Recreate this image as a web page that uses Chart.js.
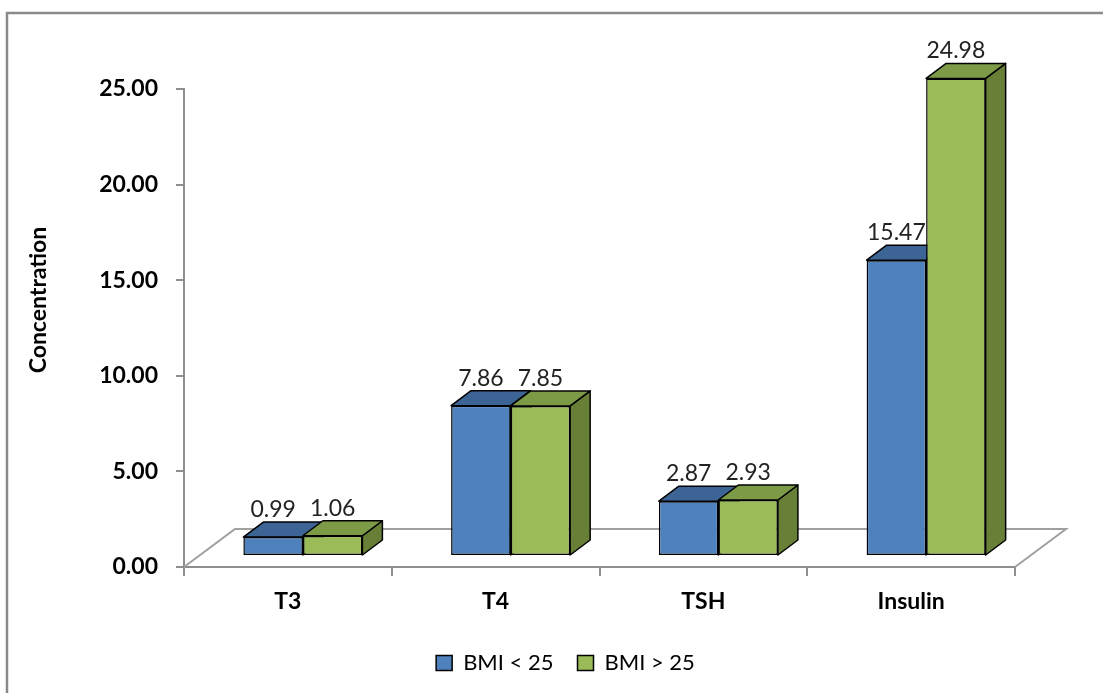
<!DOCTYPE html>
<html>
<head>
<meta charset="utf-8">
<title>Concentration by BMI group</title>
<script src="https://cdn.jsdelivr.net/npm/chart.js@4.4.1/dist/chart.umd.min.js"></script>
<style>
  html, body { margin: 0; padding: 0; background: #ffffff; }
  canvas { display: block; }
</style>
</head>
<body>
<canvas id="chart" width="1103" height="693"></canvas>
<script>
// ---- data ----
const categories = ['T3', 'T4', 'TSH', 'Insulin'];
const bmiBelow25 = [0.99, 7.86, 2.87, 15.47];
const bmiAbove25 = [1.06, 7.85, 2.93, 24.98];
const seriesNames = ['BMI < 25', 'BMI > 25'];
const yTickValues = [0, 5, 10, 15, 20, 25];
const yAxisTitle = 'Concentration';

// ---- styling ----
const FONT = 'Lato, Carlito, Calibri, "Open Sans", sans-serif';
const AXIS_GRAY = '#8e8e8e';
const FLOOR_GRAY = '#a0a0a0';
const barDepth = { dx: 20, dy: -15 };   // receding edge of each box
const barShift = { dx: 15, dy: -11 };   // boxes stand a little behind the front floor edge
const floorDepth = { dx: 51, dy: -38 }; // depth of the floor parallelogram
const palettes = [
  { front: '#4F81BD', top: '#3C6494', side: '#2F5078' },
  { front: '#9BBB59', top: '#7D9A47', side: '#687F38' }
];

// outer frame and rotated y-axis title
const framePlugin = {
  id: 'frame',
  beforeDraw(chart) {
    const ctx = chart.ctx;
    ctx.save();
    ctx.strokeStyle = '#8a8a8a';
    ctx.lineWidth = 2.5;
    ctx.beginPath();
    ctx.moveTo(7, chart.height);
    ctx.lineTo(7, 13);
    ctx.lineTo(chart.width, 13);
    ctx.stroke();

    ctx.translate(39, 300);
    ctx.rotate(-Math.PI / 2);
    ctx.font = 'bold 23px ' + FONT;
    ctx.fillStyle = '#000000';
    ctx.textAlign = 'center';
    ctx.textBaseline = 'middle';
    ctx.fillText(yAxisTitle, 0, 0);
    ctx.restore();
  }
};

// floor, box tops and sides, value labels
const boxPlugin = {
  id: 'boxes3d',
  beforeDatasetsDraw(chart) {
    const ctx = chart.ctx;
    const { left, right } = chart.chartArea;
    const y0 = chart.scales.y.getPixelForValue(0);

    // floor outline (front edge is the x axis line)
    ctx.save();
    ctx.strokeStyle = FLOOR_GRAY;
    ctx.lineWidth = 2;
    ctx.beginPath();
    ctx.moveTo(left, y0);
    ctx.lineTo(left + floorDepth.dx, y0 + floorDepth.dy);
    ctx.lineTo(right + floorDepth.dx, y0 + floorDepth.dy);
    ctx.lineTo(right, y0);
    ctx.stroke();
    ctx.restore();

    // every bar is drawn slightly back into the floor
    ctx.save();
    ctx.translate(barShift.dx, barShift.dy);

    const n = chart.data.labels.length;
    for (let j = 0; j < n; j++) {
      chart.data.datasets.forEach((ds, i) => {
        const bar = chart.getDatasetMeta(i).data[j];
        const { x, y, base, width } = bar.getProps(['x', 'y', 'base', 'width'], true);
        const l = x - width / 2, r = x + width / 2;
        const pal = palettes[i];
        ctx.lineWidth = 1.5;
        ctx.strokeStyle = '#000000';
        ctx.lineJoin = 'round';
        // side face
        ctx.beginPath();
        ctx.moveTo(r, y);
        ctx.lineTo(r + barDepth.dx, y + barDepth.dy);
        ctx.lineTo(r + barDepth.dx, base + barDepth.dy);
        ctx.lineTo(r, base);
        ctx.closePath();
        ctx.fillStyle = pal.side;
        ctx.fill();
        ctx.stroke();
        // top face
        ctx.beginPath();
        ctx.moveTo(l, y);
        ctx.lineTo(l + barDepth.dx, y + barDepth.dy);
        ctx.lineTo(r + barDepth.dx, y + barDepth.dy);
        ctx.lineTo(r, y);
        ctx.closePath();
        ctx.fillStyle = pal.top;
        ctx.fill();
        ctx.stroke();
      });
    }
  },
  afterDatasetsDraw(chart) {
    const ctx = chart.ctx;
    ctx.restore();

    ctx.save();
    ctx.font = '23px ' + FONT;
    ctx.fillStyle = '#222222';
    ctx.textAlign = 'center';
    ctx.textBaseline = 'alphabetic';
    chart.data.datasets.forEach((ds, i) => {
      chart.getDatasetMeta(i).data.forEach((bar, j) => {
        const { x, y } = bar.getProps(['x', 'y'], true);
        ctx.fillText(ds.data[j].toFixed(2), x + barShift.dx, y + barShift.dy + barDepth.dy - 5);
      });
    });
    ctx.restore();
  }
};

function makeDataset(label, values, pal) {
  return {
    label: label,
    data: values,
    backgroundColor: pal.front,
    borderColor: '#000000',
    borderWidth: 1.5,
    borderSkipped: false,
    categoryPercentage: 0.573,
    barPercentage: 1.0,
    clip: false
  };
}

function build() {
  new Chart(document.getElementById('chart'), {
    type: 'bar',
    data: {
      labels: categories,
      datasets: [
        makeDataset(seriesNames[0], bmiBelow25, palettes[0]),
        makeDataset(seriesNames[1], bmiAbove25, palettes[1])
      ]
    },
    options: {
      responsive: false,
      animation: false,
      layout: { padding: { left: 28, right: 0, top: 89, bottom: 9 } },
      scales: {
        x: {
          grid: { drawOnChartArea: false, drawTicks: true, tickLength: 9, color: AXIS_GRAY, lineWidth: 2, offset: true },
          border: { display: true, color: AXIS_GRAY, width: 2 },
          ticks: { font: { family: FONT, size: 23, weight: 'bold' }, color: '#000000', padding: 12 },
          afterFit(scale) { scale.height = 61; }
        },
        y: {
          min: 0,
          max: 25,
          afterBuildTicks(scale) { scale.ticks = yTickValues.map(v => ({ value: v })); },
          grid: { drawOnChartArea: false, drawTicks: true, tickLength: 8, color: AXIS_GRAY, lineWidth: 2 },
          border: { display: true, color: AXIS_GRAY, width: 2 },
          ticks: {
            font: { family: FONT, size: 23, weight: 'bold' },
            color: '#000000',
            padding: 18,
            callback: v => Number(v).toFixed(2)
          },
          afterFit(scale) { scale.width = 156; }
        },
        // empty margin on the right of the plot, so the floor can recede into it
        rightMargin: {
          type: 'linear',
          position: 'right',
          grid: { display: false },
          border: { display: false },
          ticks: { display: false },
          afterFit(scale) { scale.width = 88; }
        }
      },
      plugins: {
        legend: {
          position: 'bottom',
          labels: {
            boxWidth: 16,
            boxHeight: 15,
            padding: 24,
            color: '#000000',
            font: { family: FONT, size: 22 }
          }
        },
        tooltip: { enabled: false }
      }
    },
    plugins: [framePlugin, boxPlugin]
  });
}

Promise.all([
  document.fonts.load('bold 23px Lato'),
  document.fonts.load('23px Lato')
]).then(build, build);
</script>
</body>
</html>
